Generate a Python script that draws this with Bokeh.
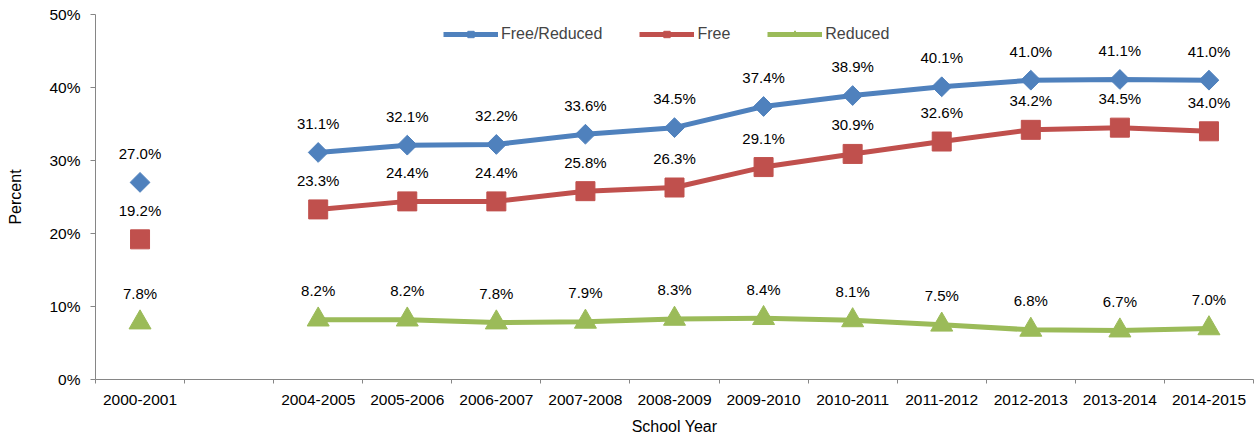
import math
import numpy as np
from bokeh.plotting import figure
from bokeh.models import (FixedTicker, PrintfTickFormatter, Legend, LegendItem,
                          ColumnDataSource, Range1d)
from bokeh.core.properties import value
from bokeh.embed import file_html
from bokeh.resources import INLINE

years = ["2000-2001", "", "2004-2005", "2005-2006", "2006-2007", "2007-2008",
         "2008-2009", "2009-2010", "2010-2011", "2011-2012", "2012-2013",
         "2013-2014", "2014-2015"]
free_reduced = [27.0, np.nan, 31.1, 32.1, 32.2, 33.6, 34.5, 37.4, 38.9, 40.1, 41.0, 41.1, 41.0]
free = [19.2, np.nan, 23.3, 24.4, 24.4, 25.8, 26.3, 29.1, 30.9, 32.6, 34.2, 34.5, 34.0]
reduced = [7.8, np.nan, 8.2, 8.2, 7.8, 7.9, 8.3, 8.4, 8.1, 7.5, 6.8, 6.7, 7.0]
y_ticks = [0, 10, 20, 30, 40, 50]

FONT = "Liberation Sans"
AXIS_COLOR = "#868686"

xs = list(range(len(years)))

p = figure(width=1257, height=437,
           x_range=Range1d(-0.5, len(years) - 0.5), y_range=Range1d(0, 50),
           output_backend="svg", toolbar_location=None,
           min_border_left=95, min_border_top=14, min_border_right=4,
           min_border_bottom=57)
p.outline_line_color = None
p.xgrid.visible = False
p.ygrid.visible = False

series = [
    ("Free/Reduced", free_reduced, "#4F81BD", "square", math.pi / 4, 14),
    ("Free", free, "#C0504D", "square", 0, 19),
    ("Reduced", reduced, "#9BBB59", "triangle", 0, 22),
]

items = []
for name, vals, color, marker, ang, size in series:
    src = ColumnDataSource(dict(x=xs, y=vals))
    ln = p.line("x", "y", source=src, line_color=color, line_width=5)
    sc = p.scatter("x", "y", source=src, marker=marker, angle=ang, size=size,
                   fill_color=color, line_color=color)
    lx = [x for x, v in zip(xs, vals) if not np.isnan(v)]
    lv = [v for v in vals if not np.isnan(v)]
    lt = [f"{v:.1f}%" for v in lv]
    tsrc = ColumnDataSource(dict(x=lx, y=lv, t=lt))
    p.text("x", "y", text="t", source=tsrc, text_align="center",
           text_baseline="middle", y_offset=-29, text_font=value(FONT),
           text_font_size="15px", text_color="#000000")
    items.append(LegendItem(label=name, renderers=[ln, sc]))

legend = Legend(items=items, orientation="horizontal", location=(348, 336),
                glyph_width=55, glyph_height=16, label_height=16,
                label_standoff=3, spacing=37, padding=0, margin=0,
                border_line_color=None, background_fill_alpha=0,
                label_text_font=FONT, label_text_font_size="16px",
                label_text_baseline="middle")
p.add_layout(legend, "center")

# X axis
xa = p.xaxis[0]
xa.ticker = FixedTicker(ticks=xs, minor_ticks=[i - 0.5 for i in range(len(years) + 1)])
xa.major_label_overrides = {i: years[i] for i in xs}
xa.major_tick_line_color = None
xa.major_tick_out = 0
xa.major_tick_in = 0
xa.minor_tick_out = 4
xa.minor_tick_in = 0
xa.minor_tick_line_color = AXIS_COLOR
xa.axis_line_color = AXIS_COLOR
xa.major_label_standoff = 11
xa.major_label_text_font = FONT
xa.major_label_text_font_size = "15.5px"
xa.major_label_text_color = "#000000"
xa.axis_label = "School Year"
xa.axis_label_text_font = FONT
xa.axis_label_text_font_size = "16px"
xa.axis_label_text_font_style = "normal"
xa.axis_label_text_color = "#000000"
xa.axis_label_standoff = 10

# Y axis
ya = p.yaxis[0]
ya.ticker = FixedTicker(ticks=y_ticks)
ya.formatter = PrintfTickFormatter(format="%d%%")
ya.major_tick_out = 5
ya.major_tick_in = 0
ya.minor_tick_line_color = None
ya.major_tick_line_color = AXIS_COLOR
ya.axis_line_color = AXIS_COLOR
ya.major_label_standoff = 10
ya.major_label_text_font = FONT
ya.major_label_text_font_size = "15.5px"
ya.major_label_text_color = "#000000"
ya.axis_label = "Percent"
ya.axis_label_text_font = FONT
ya.axis_label_text_font_size = "16px"
ya.axis_label_text_font_style = "normal"
ya.axis_label_text_color = "#000000"
ya.axis_label_standoff = 22

open("out.html", "w").write(file_html(p, INLINE))
